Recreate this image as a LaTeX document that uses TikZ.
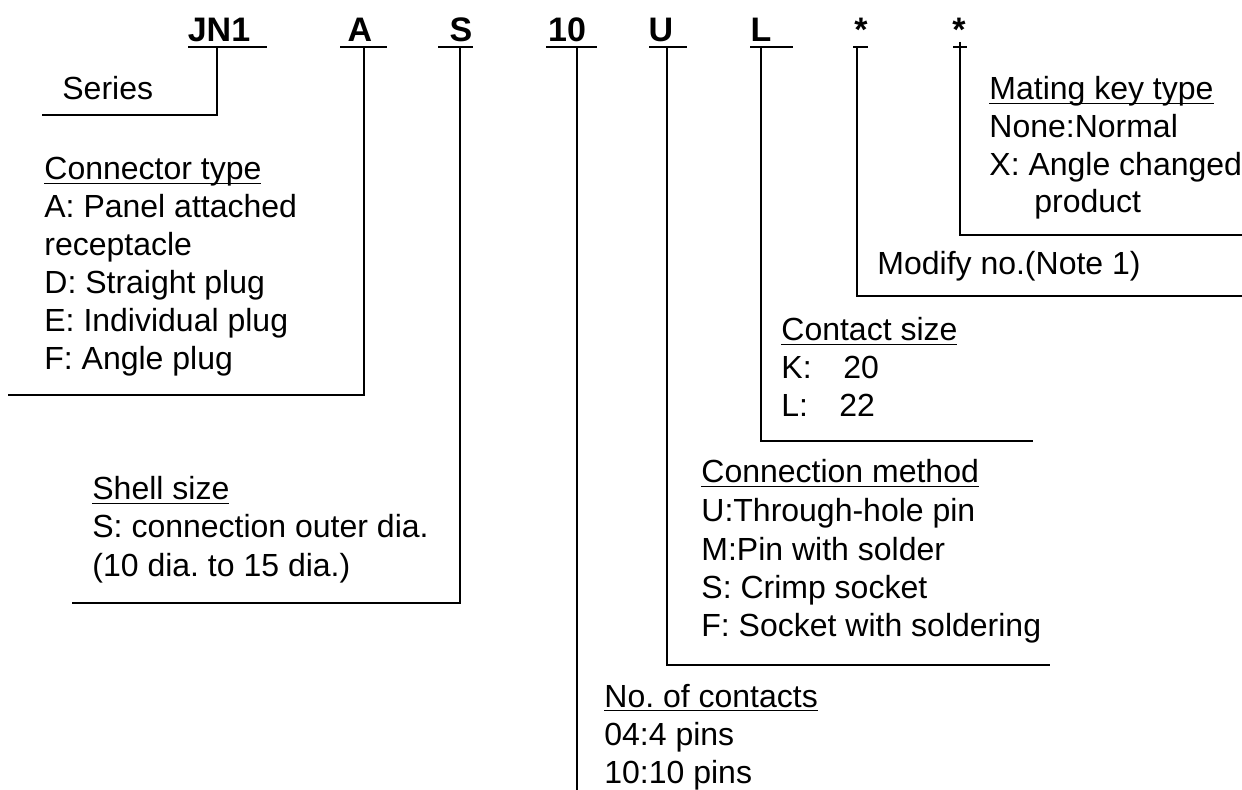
\documentclass[tikz,border=0pt]{standalone}
\usepackage{fontspec}
\setmainfont{Liberation Sans}
\frenchspacing
\newcommand\myul[1]{\setbox0\hbox{#1}\rlap{\rule[-2.2pt]{\wd0}{0.9pt}}\box0}
\begin{document}
\begin{tikzpicture}[x=0.5pt,y=-0.5pt,
  txt/.style={anchor=base west, inner sep=0pt, font=\fontsize{16}{19}\selectfont},
  hdr/.style={anchor=base, inner sep=0pt, font=\fontsize{17}{19}\selectfont\bfseries},
  ln/.style={line width=1pt},
  bar/.style={line width=1.3pt}]
\useasboundingbox (0,0) rectangle (1242,790);
% header codes
\node[hdr] (hJN) at (219,42) {JN1};
\node[hdr] (hA)  at (360,42) {A};
\node[hdr] (hS)  at (461,42) {S};
\node[hdr] (h10) at (567,42) {10};
\node[hdr] (hU)  at (661,42) {U};
\node[hdr] (hL)  at (761,42) {L};
\node[hdr] (hM1) at (861,42) {*};
\node[hdr] (hM2) at (959,42) {*};
% underlines
\draw[bar] (188,47) -- (267,47);
\draw[bar] (340,47) -- (387,47);
\draw[bar] (438,47) -- (473,47);
\draw[bar] (546,47) -- (597,47);
\draw[bar] (649,47) -- (687,47);
\draw[bar] (750,47) -- (793,47);
\draw[bar] (853,47) -- (868,47);
\draw[bar] (953,47) -- (967,47);
% connector anchor points
\coordinate (cJN) at (217,47);  \coordinate (eJN) at (42,115);
\coordinate (cA)  at (364,47);  \coordinate (eA)  at (8,395);
\coordinate (cS)  at (460,47);  \coordinate (eS)  at (72,603);
\coordinate (c10) at (577,47);  \coordinate (e10) at (577,790);
\coordinate (cU)  at (667,47);  \coordinate (eU)  at (1050,665);
\coordinate (cL)  at (761,47);  \coordinate (eL)  at (1033,441);
\coordinate (cM1) at (857,47);  \coordinate (eM1) at (1242,296);
\coordinate (cM2) at (960,42);  \coordinate (eM2) at (1242,235);
\draw[ln] (cJN) |- (eJN);
\draw[ln] (cA) |- (eA);
\draw[ln] (cS) |- (eS);
\draw[ln] (c10) -- (e10);
\draw[ln] (cU) |- (eU);
\draw[ln] (cL) |- (eL);
\draw[ln] (cM1) |- (eM1);
\draw[ln] (cM2) |- (eM2);
% texts
\node[txt] (ser) at (62,100) {Series};
\node[txt] (ct0) at (44,180) {\myul{Connector type}};
\node[txt] (ct1) at (44,218) {A: Panel attached};
\node[txt] (ct2) at (44,256) {receptacle};
\node[txt] (ct3) at (44,294) {D: Straight plug};
\node[txt] (ct4) at (44,332) {E: Individual plug};
\node[txt] (ct5) at (44,370) {F: Angle plug};
\node[txt] (ss0) at (92,500) {\myul{Shell size}};
\node[txt] (ss1) at (92,538) {S: connection outer dia.};
\node[txt] (ss2) at (92,577) {(10 dia. to 15 dia.)};
\node[txt] (nc0) at (604,707) {\myul{No. of contacts}};
\node[txt] (nc1) at (604,745) {04:4 pins};
\node[txt] (nc2) at (604,783) {10:10 pins};
\node[txt] (cm0) at (701,483) {\myul{Connection method}};
\node[txt] (cm1) at (701,522) {U:Through-hole pin};
\node[txt] (cm2) at (701,560) {M:Pin with solder};
\node[txt] (cm3) at (701,598) {S: Crimp socket};
\node[txt] (cm4) at (701,637) {F: Socket with soldering};
\node[txt] (cs0) at (781,341) {\myul{Contact size}};
\node[txt] (cs1) at (781,379) {\makebox[31pt][l]{K:}20};
\node[txt] (cs2) at (781,417) {\makebox[29pt][l]{L:}22};
\node[txt] (md0) at (877,275) {Modify no.(Note 1)};
\node[txt] (mk0) at (989,100) {\myul{Mating key type}};
\node[txt] (mk1) at (989,138) {None:Normal};
\node[txt] (mk2) at (989,176) {X: Angle changed};
\node[txt] (mk3) at (1034,213) {product};
\end{tikzpicture}
\end{document}
